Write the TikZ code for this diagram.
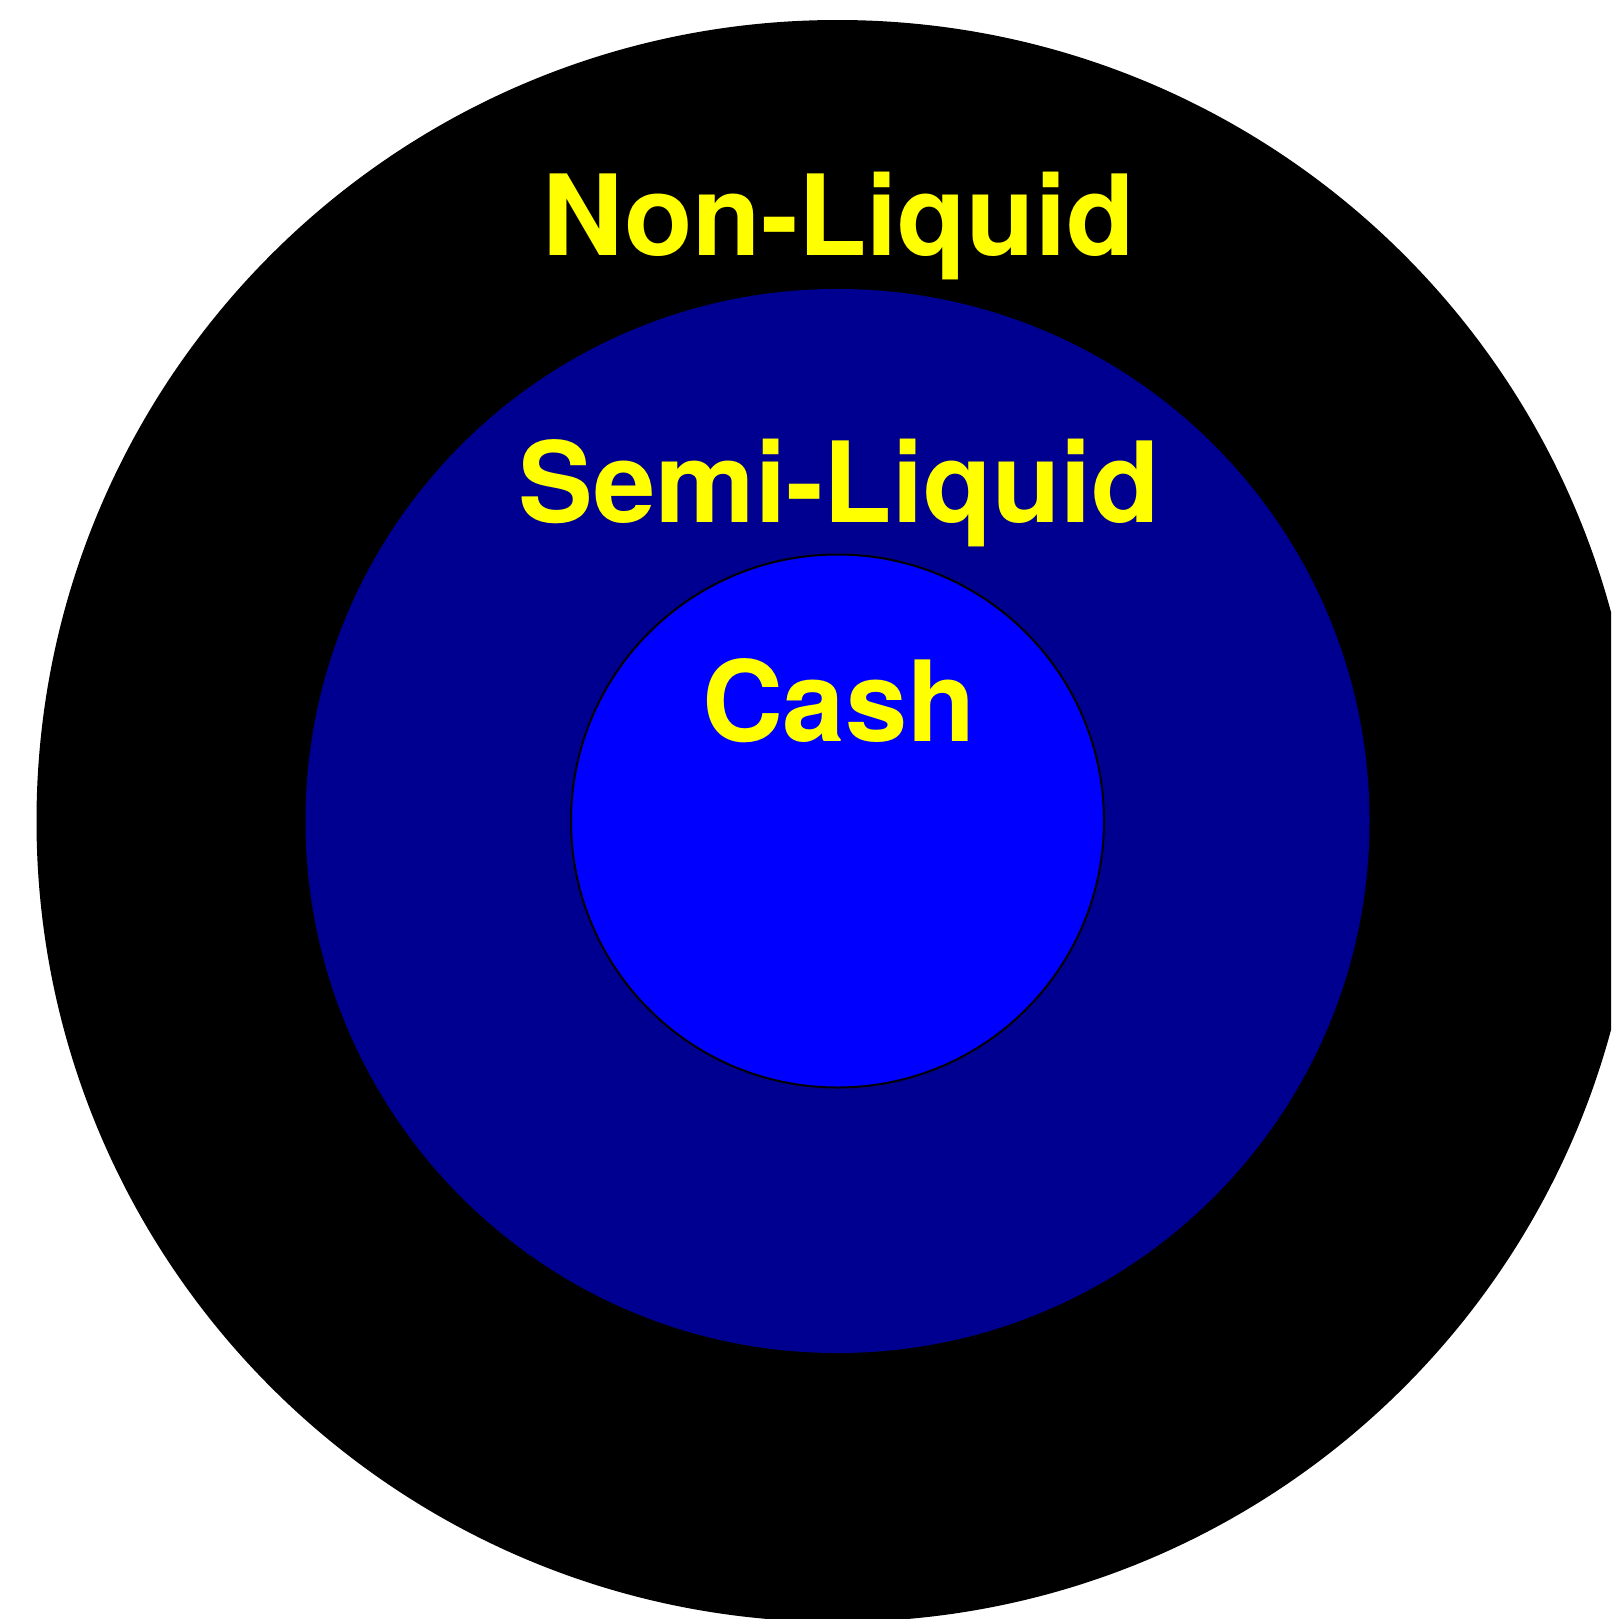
\documentclass[tikz,border=0pt]{standalone}
\usepackage{fontspec}
\setmainfont{TeX Gyre Heros}
\definecolor{navyring}{RGB}{0,0,144}
\definecolor{cashblue}{RGB}{0,0,255}
\definecolor{labelyellow}{RGB}{255,255,0}
\begin{document}
\begin{tikzpicture}[x=1pt,y=-1pt,
  ringlabel/.style={anchor=base,inner sep=0pt,text=labelyellow,font=\fontsize{112}{134}\selectfont\bfseries}]
\useasboundingbox (0,0) rectangle (1611,1619);
\clip (0,0) rectangle (1611,1619);
\coordinate (c) at (837.5,821);
\fill[black] (c) circle[radius=801];
\fill[navyring] (c) circle[radius=532];
\filldraw[fill=cashblue,draw=black,line width=2pt] (c) circle[radius=266.5];
\node[ringlabel] (nonliquid) at (838.5,255) {Non-Liquid};
\node[ringlabel] (semiliquid) at (839.5,522.5) {Semi-Liquid};
\node[ringlabel] (cash) at (839,741.5) {Cash};
\end{tikzpicture}
\end{document}
